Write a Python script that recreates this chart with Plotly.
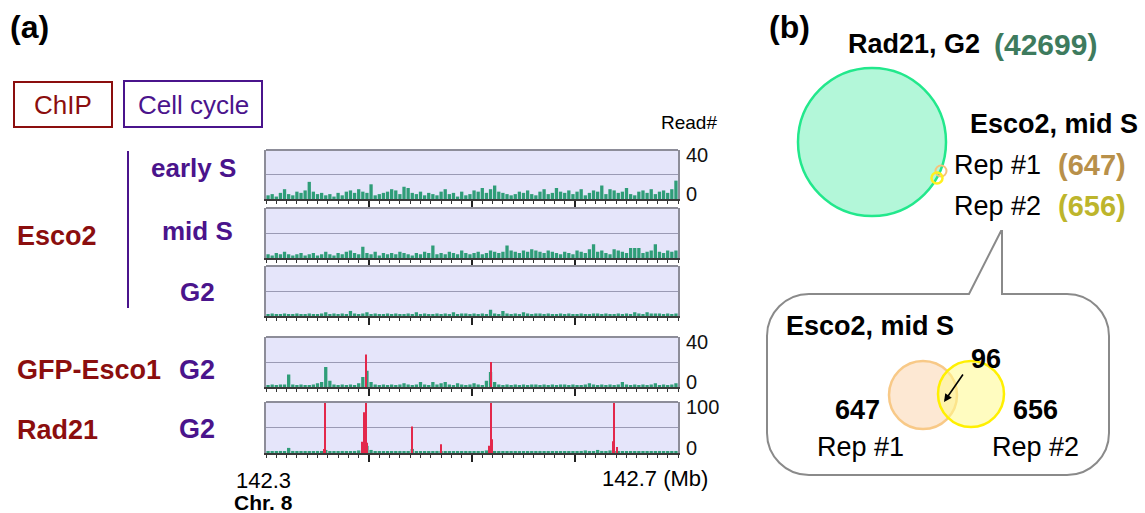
import plotly.graph_objects as go

W, H = 1145, 513

# ---------------- (a) ChIP-seq read tracks, Chr. 8, 142.3-142.7 Mb (4 kb bins)
bin_start = 142.3
bin_size = 0.004

early_s = [3, 4, 2, 5, 8, 4, 3, 6, 5, 7, 14, 6, 4, 5, 3, 4, 2, 5, 3, 6,
           7, 5, 8, 6, 5, 12, 3, 4, 5, 6, 8, 7, 4, 10, 9, 5, 4, 6, 3, 5,
           4, 3, 6, 8, 4, 5, 2, 6, 3, 4, 7, 6, 9, 5, 8, 11, 6, 5, 4, 3,
           4, 6, 5, 7, 4, 3, 6, 8, 4, 5, 9, 6, 5, 7, 4, 6, 8, 3, 5, 7,
           6, 11, 4, 8, 7, 5, 6, 9, 4, 3, 6, 7, 5, 8, 4, 6, 7, 5, 8, 15]
mid_s = [3, 2, 4, 3, 5, 3, 2, 3, 4, 2, 3, 4, 2, 3, 5, 3, 2, 4, 3, 5,
         6, 4, 3, 9, 4, 3, 5, 2, 4, 3, 4, 3, 5, 4, 3, 2, 4, 3, 5, 4,
         10, 3, 4, 3, 5, 4, 3, 6, 4, 3, 4, 5, 3, 4, 6, 5, 4, 5, 10, 6,
         5, 4, 6, 5, 7, 6, 5, 4, 6, 5, 4, 3, 5, 4, 3, 6, 5, 4, 7, 11,
         5, 6, 4, 3, 7, 6, 5, 4, 8, 8, 8, 4, 5, 6, 11, 5, 4, 6, 5, 6]
g2_esco2 = [1, 2, 1, 1, 2, 1, 1, 2, 1, 1, 2, 1, 1, 2, 3, 1, 2, 1, 2, 1,
            4, 2, 1, 2, 3, 1, 2, 1, 1, 2, 1, 2, 1, 1, 2, 1, 3, 1, 2, 1,
            1, 2, 1, 2, 1, 3, 1, 2, 2, 1, 2, 1, 2, 1, 5, 2, 1, 4, 2, 1,
            2, 1, 3, 2, 1, 2, 2, 1, 2, 1, 1, 2, 1, 2, 1, 1, 2, 1, 1, 2,
            2, 1, 2, 1, 1, 2, 1, 2, 1, 3, 2, 1, 3, 2, 2, 2, 1, 2, 1, 2]
gfp_esco1 = [1, 2, 1, 2, 2, 10, 2, 1, 2, 1, 1, 2, 3, 4, 16, 5, 2, 1, 2, 1,
             2, 1, 3, 8, 13, 4, 2, 1, 2, 1, 2, 1, 2, 3, 2, 1, 2, 4, 2, 1,
             4, 2, 3, 4, 2, 1, 3, 2, 1, 2, 3, 2, 1, 5, 12, 4, 2, 1, 2, 1,
             2, 1, 2, 1, 2, 2, 1, 2, 1, 2, 1, 2, 2, 1, 2, 1, 1, 2, 3, 2,
             1, 2, 1, 2, 1, 2, 4, 2, 1, 2, 1, 2, 1, 2, 3, 1, 2, 1, 2, 3]
rad21_g2 = [2, 3, 2, 4, 3, 10, 4, 3, 2, 3, 3, 2, 4, 3, 6, 3, 2, 3, 4, 3,
            3, 4, 5, 9, 14, 6, 3, 2, 3, 2, 3, 2, 4, 3, 2, 8, 3, 2, 3, 2,
            3, 4, 2, 3, 2, 3, 2, 3, 2, 3, 2, 3, 4, 5, 8, 4, 3, 2, 3, 2,
            3, 2, 3, 2, 3, 2, 4, 3, 2, 3, 2, 3, 2, 3, 2, 3, 4, 5, 3, 2,
            6, 4, 3, 5, 2, 3, 2, 3, 2, 3, 2, 3, 2, 3, 2, 4, 2, 3, 2, 3]

# called peaks (red)
gfp_peak_pos = [142.3971, 142.5184]
gfp_peak_val = [26, 20]
rad21_peak_pos = [142.3563, 142.3573, 142.3932, 142.3951, 142.3961, 142.3971,
                  142.3981, 142.4417, 142.4699, 142.5165, 142.5184, 142.5194,
                  142.6369, 142.6379, 142.6408]
rad21_peak_val = [8, 115, 22, 80, 24, 115, 20, 52, 17, 14, 115, 27, 23, 115, 12]

track_max = [40, 40, 40, 40, 100]
track_scale_shown = [True, False, False, True, True]
x_major = [142.4, 142.5, 142.6]

# ---------------- (b) peak overlap counts
rad21_total = 42699
rep1_total = 647
rep2_total = 656
rep_overlap = 96

# ---------------- styling
FONT = "Liberation Sans, Arial, sans-serif"
DARKRED = "#8b0e0e"
PURPLE = "#4a148c"
GREEN = "#2f9d78"
RED = "#e3284b"
PANEL_BG = "#e5e5fa"
FRAME = "#8d8d99"

# panel pixel boxes (top, bottom) and shared x extent
panel_tb = [(150, 199), (208, 258), (266, 316), (337, 387), (402, 453)]
panel_lr = (266, 678)


def px(x):
    return x / W


def py(y):
    return 1 - y / H


fig = go.Figure()
tracks = [early_s, mid_s, g2_esco2, gfp_esco1, rad21_g2]
peaks = [None, None, None, (gfp_peak_pos, gfp_peak_val),
         (rad21_peak_pos, rad21_peak_val)]
centers = [bin_start + bin_size * (i + 0.5) for i in range(len(early_s))]
shapes = []
ann = []

for k, vals in enumerate(tracks):
    sfx = "" if k == 0 else str(k + 1)
    xa, ya = "x" + sfx, "y" + sfx
    fig.add_trace(go.Bar(x=centers, y=vals, width=bin_size * 0.8,
                         marker=dict(color=GREEN, line_width=0),
                         xaxis=xa, yaxis=ya, showlegend=False, hoverinfo="skip"))
    if peaks[k]:
        fig.add_trace(go.Bar(x=peaks[k][0], y=peaks[k][1], width=0.0013,
                             marker=dict(color=RED, line_width=0),
                             xaxis=xa, yaxis=ya, showlegend=False,
                             hoverinfo="skip"))
    top, bot = panel_tb[k]
    ymax = track_max[k]
    fig.layout["xaxis" + sfx] = dict(
        domain=[px(panel_lr[0]), px(panel_lr[1])], range=[142.3, 142.7],
        anchor=ya, showline=True, linecolor="#3a3a3a", linewidth=1.5,
        mirror=False, showgrid=False, zeroline=False,
        tickmode="array", tickvals=x_major, ticks="outside", ticklen=7,
        tickwidth=1.5, tickcolor="#222", showticklabels=False,
        minor=dict(ticks="outside", ticklen=3, dtick=0.01, tick0=142.3,
                   tickcolor="#333", tickwidth=1, showgrid=False),
        fixedrange=True)
    fig.layout["yaxis" + sfx] = dict(
        domain=[py(bot), py(top)], range=[0, ymax], anchor=xa, side="right",
        tickmode="array", tickvals=[0, ymax / 2, ymax], showticklabels=False,
        ticks="", showgrid=True, gridcolor="#9a9ab4", gridwidth=1,
        zeroline=False, showline=True, linecolor=FRAME, linewidth=2,
        mirror=True, fixedrange=True)
    # top edge of the panel frame
    shapes.append(dict(type="line", xref=xa + " domain", yref=ya + " domain",
                       x0=0, x1=1, y0=1, y1=1,
                       line=dict(color=FRAME, width=2)))
    # read-count scale, set just inside the frame corners
    if track_scale_shown[k]:
        for val, shift in ((ymax, -5), (0, 5)):
            ann.append(dict(text=str(val), xref="paper", yref=ya,
                            x=px(684), y=val, yshift=shift,
                            xanchor="left", yanchor="middle", showarrow=False,
                            font=dict(family=FONT, size=20, color="#111")))

# ChIP / Cell cycle header boxes and bracket line
shapes.append(dict(type="rect", xref="paper", yref="paper",
                   x0=px(14), x1=px(112), y0=py(127), y1=py(82),
                   line=dict(color=DARKRED, width=2)))
shapes.append(dict(type="rect", xref="paper", yref="paper",
                   x0=px(124), x1=px(262), y0=py(127), y1=py(81),
                   line=dict(color=PURPLE, width=2)))
shapes.append(dict(type="line", xref="paper", yref="paper",
                   x0=px(128), x1=px(128), y0=py(151), y1=py(308),
                   line=dict(color=PURPLE, width=2)))


def circle(cx, cy, r, fill, line, lw):
    return dict(type="circle", xref="paper", yref="paper",
                x0=px(cx - r), x1=px(cx + r), y0=py(cy + r), y1=py(cy - r),
                fillcolor=fill, line=dict(color=line, width=lw))


# callout bubble with pointer
L, R, T, B, rr = 767, 1109, 294, 475, 42
c = rr * 0.5523


def P(x, y):
    return f"{px(x):.5f},{py(y):.5f}"


bubble = (f"M {P(L + rr, T)} L {P(969, T)} L {P(1001, 231)} L {P(1002, 231)} "
          f"L {P(1002, T)} L {P(R - rr, T)} "
          f"C {P(R - rr + c, T)} {P(R, T + rr - c)} {P(R, T + rr)} "
          f"L {P(R, B - rr)} "
          f"C {P(R, B - rr + c)} {P(R - rr + c, B)} {P(R - rr, B)} "
          f"L {P(L + rr, B)} "
          f"C {P(L + rr - c, B)} {P(L, B - rr + c)} {P(L, B - rr)} "
          f"L {P(L, T + rr)} "
          f"C {P(L, T + rr - c)} {P(L + rr - c, T)} {P(L + rr, T)} Z")
shapes.append(dict(type="path", xref="paper", yref="paper", path=bubble,
                   fillcolor="white", line=dict(color="#8a8a8a", width=2)))

# Venn circles
shapes.append(circle(872, 142, 74, "#b3f7d9", "#22e88c", 2.5))
shapes.append(circle(941, 171, 5.5, "rgba(0,0,0,0)", "#f7c27a", 2))
shapes.append(circle(937, 178, 5.5, "rgba(0,0,0,0)", "#fff01e", 2.5))
shapes.append(circle(923, 395, 34, "#fde8d3", "#f8c987", 2.5))
shapes.append(circle(971, 394, 33, "rgba(255,250,140,0.55)", "#fff000", 2.5))


def label(text, x, y, size, color="#000", bold=False, anchor="center"):
    ann.append(dict(text=text, x=px(x), y=py(y), xref="paper", yref="paper",
                    xanchor=anchor, yanchor="middle", showarrow=False,
                    font=dict(family=FONT, size=size, color=color,
                              weight="bold" if bold else "normal")))


# panel (a) text
label("(a)", 8, 27, 32, bold=True, anchor="left")
label("ChIP", 63, 105, 26, DARKRED)
label("Cell cycle", 193, 105, 26, PURPLE)
label("early S", 193, 168, 26, PURPLE, bold=True)
label("mid S", 197, 231, 26, PURPLE, bold=True)
label("G2", 197, 292, 26, PURPLE, bold=True)
label("Esco2", 15, 236, 27, DARKRED, bold=True, anchor="left")
label("GFP-Esco1", 15, 370, 27, DARKRED, bold=True, anchor="left")
label("G2", 197, 370, 27, PURPLE, bold=True)
label("Rad21", 15, 430, 27, DARKRED, bold=True, anchor="left")
label("G2", 197, 429, 27, PURPLE, bold=True)
label("Read#", 689, 122, 19)
label("142.3", 263, 480, 22)
label("Chr. 8", 263, 502, 21, bold=True)
label("142.7 (Mb)", 655, 478, 22)

# panel (b) text
label("(b)", 767, 27, 32, bold=True, anchor="left")
label("Rad21, G2", 846, 44, 27, bold=True, anchor="left")
label(f"({rad21_total})", 992, 44, 30, "#3e7b5e", bold=True, anchor="left")
label("Esco2, mid S", 968, 124, 27, bold=True, anchor="left")
label("Rep #1", 952, 165, 27, anchor="left")
label(f"({rep1_total})", 1056, 165, 29, "#b8904a", bold=True, anchor="left")
label("Rep #2", 952, 206, 27, anchor="left")
label(f"({rep2_total})", 1056, 206, 29, "#bdb52c", bold=True, anchor="left")
label("Esco2, mid S", 784, 326, 27, bold=True, anchor="left")
label(str(rep_overlap), 986, 359, 27, bold=True)
label(str(rep1_total), 857, 410, 27, bold=True)
label(str(rep2_total), 1035, 410, 27, bold=True)
label("Rep #1", 860, 447, 27)
label("Rep #2", 1035, 447, 27)

# arrow pointing into the overlap
ann.append(dict(text="", x=px(944), y=py(402), xref="paper", yref="paper",
                ax=20, ay=-29, showarrow=True, arrowhead=2, arrowsize=1,
                arrowwidth=1.6, arrowcolor="#000", standoff=0,
                startstandoff=0))

fig.update_layout(width=W, height=H, margin=dict(l=0, r=0, t=0, b=0),
                  paper_bgcolor="white", plot_bgcolor=PANEL_BG,
                  barmode="overlay", showlegend=False, shapes=shapes,
                  annotations=ann, font=dict(family=FONT))

fig.write_html("out.html")
